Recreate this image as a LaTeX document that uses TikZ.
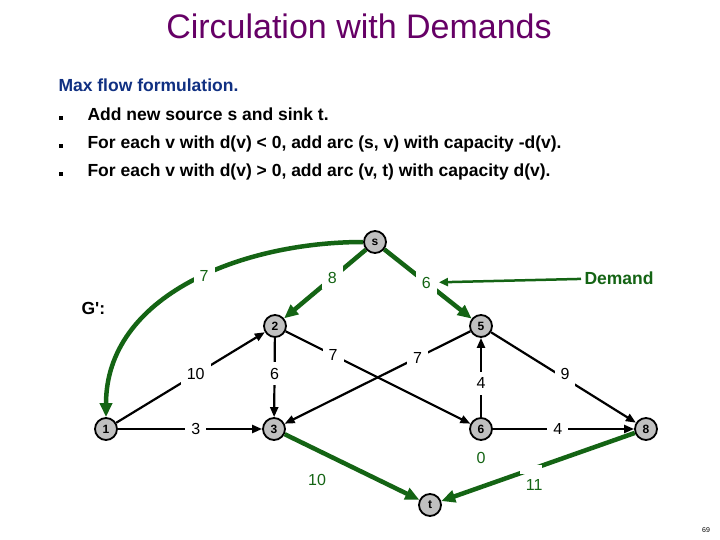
\documentclass[tikz,border=0pt]{standalone}
\usepackage{fontspec}
\setmainfont{Liberation Sans}
\usetikzlibrary{arrows.meta}
\definecolor{dgreen}{RGB}{20,100,20}
\definecolor{ttl}{RGB}{102,0,102}
\definecolor{navy}{RGB}{16,48,130}
\definecolor{vgray}{RGB}{192,192,192}
\tikzset{
  vtx/.style={circle, draw=black, line width=1.8pt, fill=vgray, minimum size=22pt, inner sep=0pt,
    font=\bfseries\fontsize{12}{12}\selectfont},
  bedge/.style={draw=black, line width=2.2pt, -{Triangle[length=10pt,width=8pt]}},
  gedge/.style={draw=dgreen, line width=4.5pt, -{Triangle[length=14pt,width=12pt]}},
  lbl/.style={fill=white, inner sep=6pt, text=black, font=\fontsize{16}{16}\selectfont},
  glbl/.style={fill=white, inner sep=6pt, text=dgreen, font=\fontsize{16}{16}\selectfont},
  gtxt/.style={text=dgreen, font=\fontsize{16}{16}\selectfont},
  bodytxt/.style={anchor=base west, font=\bfseries\fontsize{17.5}{17.5}\selectfont},
  bullet/.style={fill=black, minimum size=4pt, inner sep=0pt}
}
\begin{document}
\begin{tikzpicture}[x=1pt,y=-1pt]
\useasboundingbox[fill=white] (0,0) rectangle (720,540);

% title and text
\node[anchor=base, text=ttl, font=\fontsize{34}{34}\selectfont] (title) at (359,39) {Circulation with Demands};
\node[bodytxt, text=navy] (mf) at (55,92) {Max flow formulation.};
\node[bullet] (b1) at (61,118) {};
\node[bullet] (b2) at (61,146) {};
\node[bullet] (b3) at (61,174) {};
\node[bodytxt] (t1) at (84,121) {Add new source s and sink t.};
\node[bodytxt] (t2) at (84,149) {For each v with d(v) < 0, add arc (s, v) with capacity -d(v).};
\node[bodytxt] (t3) at (84,177) {For each v with d(v) > 0, add arc (v, t) with capacity d(v).};
\node[bodytxt] (gp) at (78,314) {\addfontfeature{Ligatures=TeXOff}G':};
\node[font=\fontsize{7}{7}\selectfont] (pg) at (706,530) {69};

% vertices
\node[vtx] (s) at (375,242) {s};
\node[vtx] (2) at (275,326) {2};
\node[vtx] (5) at (481,326) {5};
\node[vtx] (1) at (106,429) {1};
\node[vtx] (3) at (274,429) {3};
\node[vtx] (6) at (481,429) {6};
\node[vtx] (8) at (646,429) {8};
\node[vtx] (t) at (430,505) {t};

% black edges
\draw[bedge] (1) -- node[lbl,pos=0.535] {10} (2);
\draw[bedge] (2) -- node[lbl,pos=0.45] {6} (3);
\draw[bedge] (2) -- node[lbl,pos=0.257] {7} (6);
\draw[bedge] (5) -- node[lbl,pos=0.284] {7} (3);
\draw[bedge] (6) -- node[lbl,pos=0.43] {4} (5);
\draw[bedge] (5) -- node[lbl,pos=0.51,yshift=4pt] {9} (8);
\draw[bedge] (1) -- node[lbl,pos=0.54] {3} (3);
\draw[bedge] (6) -- node[lbl,pos=0.46] {4} (8);

% green edges
\draw[gedge] (s) -- node[glbl,pos=0.41] {8} (2);
\draw[gedge] (s) -- node[glbl,pos=0.48] (d6) {6} (5);
\draw[gedge] (s) to[out=180,in=90] node[glbl,pos=0.45] {7} (1);
\draw[gedge] (3) -- node[gtxt,pos=0.27,xshift=-4pt,yshift=-28pt] {10} (t);
\draw[gedge] (8) -- node[pos=0.535, fill=white, minimum width=22pt, minimum height=9pt, inner sep=0pt,
   label={[gtxt, yshift=2pt, xshift=3pt]below:11}] {} (t);
\node[gtxt] (z6) at (481,458) {0};

% demand annotation
\node[anchor=west, text=dgreen, font=\bfseries\fontsize{17.5}{17.5}\selectfont] (dem) at (581,278) {Demand};
\draw[dgreen, line width=2.5pt, -{Triangle[length=9pt,width=8pt]}] (dem) -- (d6);
\end{tikzpicture}
\end{document}
